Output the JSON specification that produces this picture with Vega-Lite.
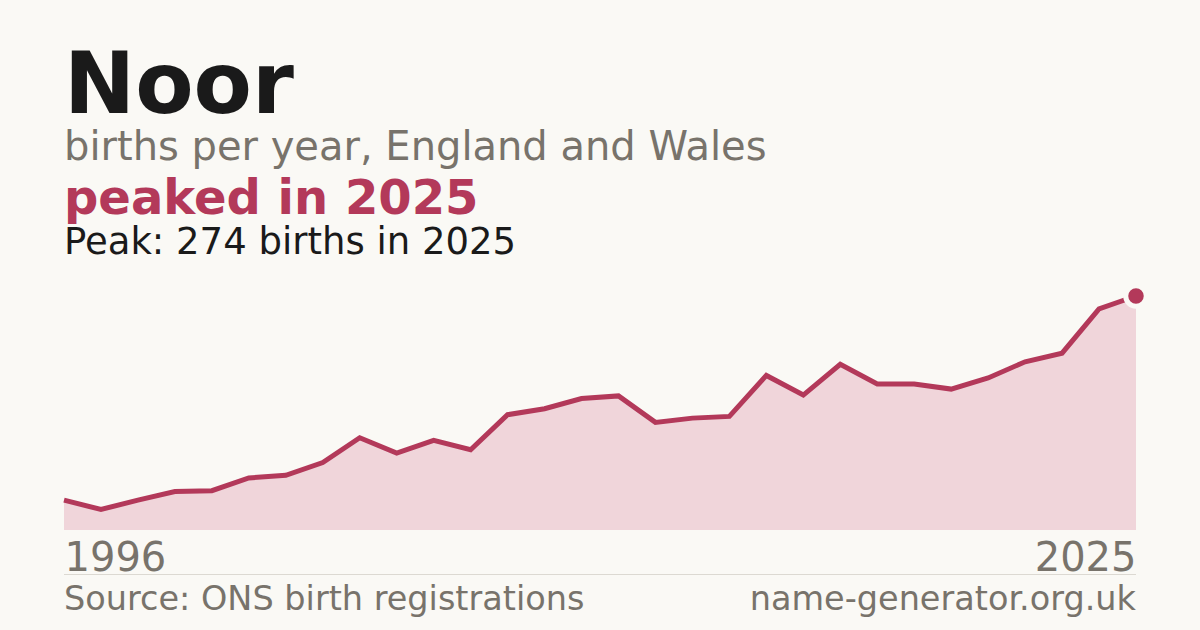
{
  "$schema": "https://vega.github.io/schema/vega-lite/v6.json",
  "width": 1072,
  "height": 234,
  "autosize": {"type": "none"},
  "padding": {"left": 64, "top": 296, "right": 64, "bottom": 100},
  "background": "#faf9f5",
  "config": {"view": {"stroke": null}, "font": "DejaVu Sans"},
  "datasets": {
    "births": [
      {"year": 1996, "births": 35},
      {"year": 1997, "births": 24},
      {"year": 1998, "births": 35},
      {"year": 1999, "births": 45},
      {"year": 2000, "births": 46},
      {"year": 2001, "births": 61},
      {"year": 2002, "births": 64},
      {"year": 2003, "births": 79},
      {"year": 2004, "births": 108},
      {"year": 2005, "births": 90},
      {"year": 2006, "births": 105},
      {"year": 2007, "births": 94},
      {"year": 2008, "births": 135},
      {"year": 2009, "births": 142},
      {"year": 2010, "births": 154},
      {"year": 2011, "births": 157},
      {"year": 2012, "births": 126},
      {"year": 2013, "births": 131},
      {"year": 2014, "births": 133},
      {"year": 2015, "births": 181},
      {"year": 2016, "births": 158},
      {"year": 2017, "births": 194},
      {"year": 2018, "births": 171},
      {"year": 2019, "births": 171},
      {"year": 2020, "births": 165},
      {"year": 2021, "births": 178},
      {"year": 2022, "births": 197},
      {"year": 2023, "births": 207},
      {"year": 2024, "births": 259},
      {"year": 2025, "births": 274}
    ]
  },
  "layer": [
    {
      "data": {"name": "births"},
      "mark": {"type": "area", "color": "#f0d5da", "opacity": 1},
      "encoding": {
        "x": {
          "field": "year", "type": "quantitative",
          "scale": {"domain": [1996, 2025], "nice": false, "zero": false},
          "axis": {
            "values": [1996, 2025], "format": "d", "title": null,
            "ticks": false, "tickSize": 0, "domain": false, "grid": false,
            "labelFlush": true, "labelPadding": 40, "labelBaseline": "alphabetic",
            "labelFontSize": 40, "labelColor": "#78736b", "labelFont": "DejaVu Sans"
          }
        },
        "y": {"field": "births", "type": "quantitative", "scale": {"domain": [0, 274], "nice": false}, "axis": null}
      }
    },
    {
      "data": {"name": "births"},
      "mark": {"type": "line", "color": "#b3395a", "strokeWidth": 5},
      "encoding": {
        "x": {"field": "year", "type": "quantitative"},
        "y": {"field": "births", "type": "quantitative"}
      }
    },
    {
      "data": {"name": "births"},
      "transform": [{"filter": "datum.year === 2025"}],
      "mark": {"type": "circle", "fill": "#b3395a", "stroke": "#faf9f5", "strokeWidth": 5, "size": 420, "opacity": 1},
      "encoding": {
        "x": {"field": "year", "type": "quantitative"},
        "y": {"field": "births", "type": "quantitative"}
      }
    },
    {
      "data": {"values": [{"t": "Noor"}]},
      "mark": {"type": "text", "align": "left", "baseline": "alphabetic", "fontSize": 85, "fontWeight": "bold", "color": "#1a1a1a", "font": "DejaVu Sans"},
      "encoding": {"x": {"datum": 1996, "type": "quantitative"}, "y": {"value": -183}, "text": {"field": "t"}}
    },
    {
      "data": {"values": [{"t": "births per year, England and Wales"}]},
      "mark": {"type": "text", "align": "left", "baseline": "alphabetic", "fontSize": 40, "color": "#78736b", "font": "DejaVu Sans"},
      "encoding": {"x": {"datum": 1996, "type": "quantitative"}, "y": {"value": -136.5}, "text": {"field": "t"}}
    },
    {
      "data": {"values": [{"t": "peaked in 2025"}]},
      "mark": {"type": "text", "align": "left", "baseline": "alphabetic", "fontSize": 48, "fontWeight": "bold", "color": "#b3395a", "font": "DejaVu Sans"},
      "encoding": {"x": {"datum": 1996, "type": "quantitative"}, "y": {"value": -82.5}, "text": {"field": "t"}}
    },
    {
      "data": {"values": [{"t": "Peak: 274 births in 2025"}]},
      "mark": {"type": "text", "align": "left", "baseline": "alphabetic", "fontSize": 37, "color": "#1a1a1a", "font": "DejaVu Sans"},
      "encoding": {"x": {"datum": 1996, "type": "quantitative"}, "y": {"value": -42}, "text": {"field": "t"}}
    },
    {
      "data": {"values": [{}]},
      "mark": {"type": "rule", "color": "#dcd9d2", "strokeWidth": 1},
      "encoding": {"x": {"datum": 1996, "type": "quantitative"}, "x2": {"datum": 2025}, "y": {"value": 278.5}}
    },
    {
      "data": {"values": [{"t": "Source: ONS birth registrations"}]},
      "mark": {"type": "text", "align": "left", "baseline": "alphabetic", "fontSize": 33.5, "color": "#78736b", "font": "DejaVu Sans"},
      "encoding": {"x": {"datum": 1996, "type": "quantitative"}, "y": {"value": 314}, "text": {"field": "t"}}
    },
    {
      "data": {"values": [{"t": "name-generator.org.uk"}]},
      "mark": {"type": "text", "align": "right", "baseline": "alphabetic", "fontSize": 33.5, "color": "#78736b", "font": "DejaVu Sans"},
      "encoding": {"x": {"datum": 2025, "type": "quantitative"}, "y": {"value": 314}, "text": {"field": "t"}}
    }
  ]
}
